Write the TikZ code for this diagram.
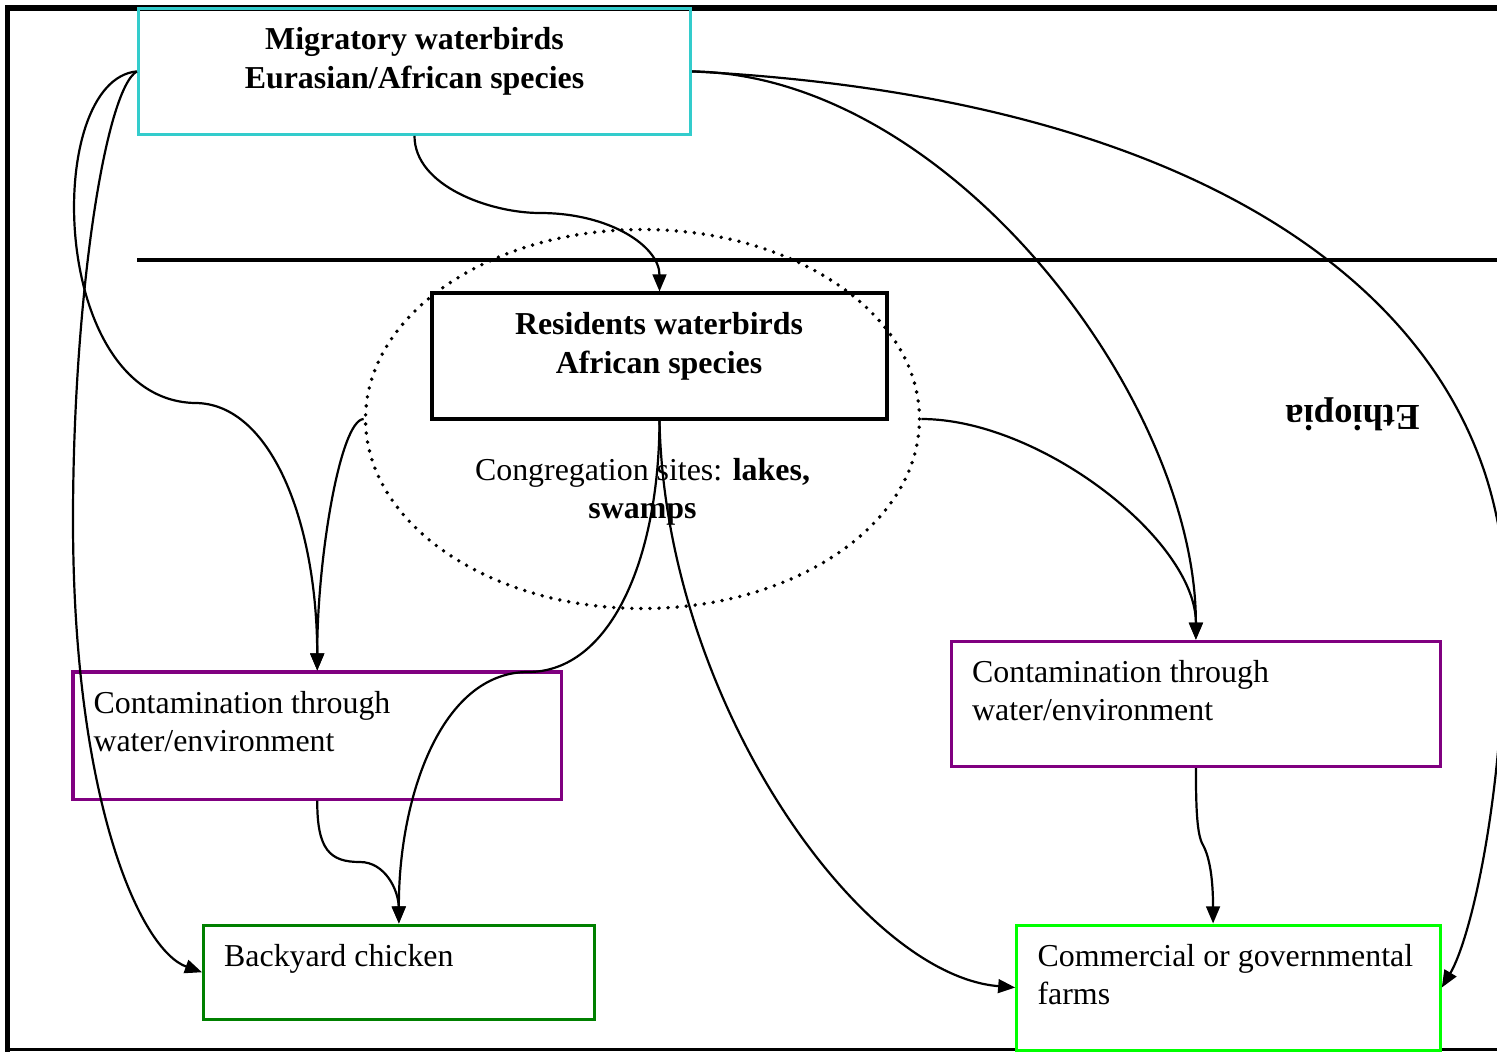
\documentclass[tikz,border=0pt]{standalone}
\usepackage{fontspec}
\setmainfont{Liberation Serif}
\usetikzlibrary{fit,shapes.geometric,arrows.meta}

\definecolor{skybox}{HTML}{33CCCC}
\definecolor{plumbox}{HTML}{800080}
\definecolor{leafbox}{HTML}{008000}
\definecolor{limebox}{HTML}{00FF00}

\tikzset{
  panel/.style={draw, rectangle, inner sep=0pt, line width=1.1pt},
  txt/.style={inner sep=0pt, font=\fontsize{11.6}{13.8}\selectfont},
  boldtxt/.style={inner sep=0pt, font=\fontsize{11.6}{14}\selectfont\bfseries},
  flow/.style={line width=0.8pt, -{Triangle[length=6.2pt,width=5pt]}},
}

\begin{document}
\begin{tikzpicture}[x=0.3636pt, y=-0.3636pt]
\useasboundingbox (0,0) rectangle (1497,1051);
\clip (0,0) rectangle (1497,1051);

% outer frame and the border line
\draw[line width=2pt] (1500,8) -- (7.5,8) -- (7.5,1052);
\draw[line width=0.8pt] (7.5,1049.5) -- (1500,1049.5);
\draw[line width=1.6pt] (137,260) -- (1500,260);

% congregation site
\node[ellipse, draw, line width=1.4pt, dash pattern=on 0pt off 3.3pt, line cap=round,
      minimum width=201.4pt, minimum height=137.8pt, inner sep=0pt] (sites) at (642.5,419) {};

% boxes
\node[panel, draw=skybox, line width=1.2pt, fit={(138.5,8.5) (690.5,134.3)}] (mig) {};
\node[panel, fit={(432,293) (887,419)}] (res) {};
\node[panel, draw=plumbox, fit={(73,672) (561.5,799)}] (ctl) {};
\node[panel, draw=plumbox, fit={(951.5,641.2) (1440.3,766.7)}] (ctr) {};
\node[panel, draw=leafbox, fit={(203.5,925) (594.3,1019.5)}] (back) {};
\node[panel, draw=limebox, fill=white, fit={(1016.7,925) (1440.3,1050)}] (com) {};

% labels
\node[boldtxt, align=center, anchor=north] (migtxt) at (414.5,27) {Migratory waterbirds\\Eurasian/African species};
\node[boldtxt, align=center, anchor=north] (restxt) at (659,312) {Residents waterbirds\\African species};
\node[txt, align=center, anchor=north] (sitetxt) at (642.5,457.5) {Congregation sites: \textbf{lakes,}\\\textbf{swamps}};
\node[txt, align=left, anchor=north west] (ctltxt) at (93,691) {Contamination through\\water/environment};
\node[txt, align=left, anchor=north west] (ctrtxt) at (971.6,659.5) {Contamination through\\water/environment};
\node[txt, anchor=base west] (backtxt) at (223.6,966) {Backyard chicken};
\node[txt, align=left, anchor=north west] (comtxt) at (1037,944) {Commercial or governmental\\farms};
\node[inner sep=0pt, font=\fontsize{13.3}{16}\selectfont\bfseries, rotate=180, anchor=base] (eth) at (1352.5,405) {Ethiopia};

% transmission routes
\draw[flow] (mig.south) .. controls +(0,50) and +(-50,0) .. (540,213)
                        .. controls +(70,0) and +(0,-45) .. (res.north);
\draw[flow] (mig.west) .. controls (43,80) and (48,400) .. (195,403)
                       .. controls (270,403) and (317,520) .. (ctl.north);
\draw[flow] (mig.west) .. controls (105,90) and (73,300) .. (73,520)
                       .. controls (73,800) and (140,950) .. (back.west);
\draw[flow] (mig.east) .. controls (950,75) and (1196,400) .. (ctr.north);
\draw[flow] (mig.east) .. controls (1250,100) and (1505,330) .. (1505,600)
                       .. controls (1505,800) and (1470,940) .. (com.east);
\draw[flow] (res.south) .. controls (659,560) and (610,672) .. (528,672)
                        .. controls (440,672) and (398.5,800) .. (back.north);
\draw[flow] (res.south) .. controls (665,700) and (860,975) .. (com.west);
\draw[flow] (sites.west) .. controls (340,420) and (317,560) .. (ctl.north);
\draw[flow] (sites.east) .. controls (1040,419) and (1196,540) .. (ctr.north);
\draw[flow] (ctl.south) .. controls (317,850) and (330,862) .. (360,862)
                        .. controls (385,862) and (398.5,890) .. (back.north);
\draw[flow] (ctr.south) .. controls (1196,810) and (1197,835) .. (1203,845)
                        .. controls (1210,858) and (1213,880) .. ([xshift=-5.6pt]com.north);
\end{tikzpicture}
\end{document}
